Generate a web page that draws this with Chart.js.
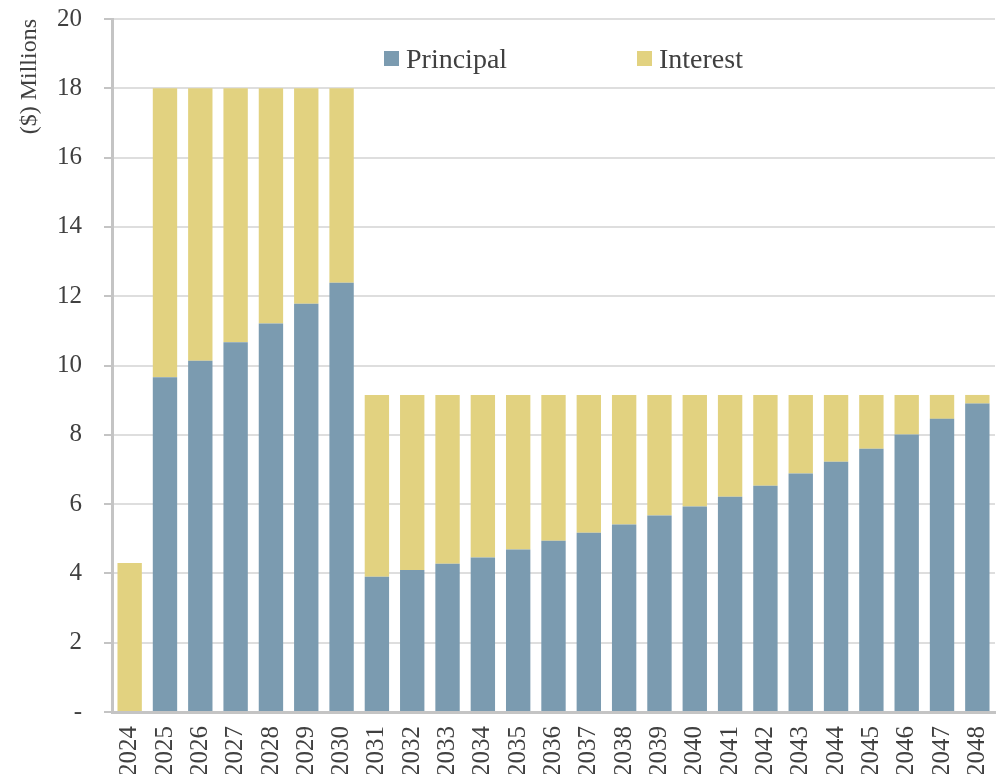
<!DOCTYPE html>
<html>
<head>
<meta charset="utf-8">
<script src="https://cdn.jsdelivr.net/npm/chart.js@4/dist/chart.umd.min.js"></script>
<style>
  html, body { margin: 0; padding: 0; background: #fff; overflow: hidden; }
  #wrap { width: 996px; height: 774px; position: relative; }
</style>
</head>
<body>
<div id="wrap"><canvas id="c" width="996" height="774"></canvas></div>
<script>
// Debt service schedule, $ millions
const years = ['2024','2025','2026','2027','2028','2029','2030','2031','2032','2033','2034','2035','2036',
               '2037','2038','2039','2040','2041','2042','2043','2044','2045','2046','2047','2048'];
const principal = [0, 9.66, 10.14, 10.67, 11.21, 11.78, 12.39, 3.90, 4.10, 4.28, 4.46, 4.69, 4.94,
                   5.17, 5.41, 5.67, 5.93, 6.21, 6.53, 6.88, 7.22, 7.60, 8.01, 8.46, 8.90];
const interest = [4.30, 8.34, 7.86, 7.33, 6.79, 6.22, 5.61, 5.25, 5.05, 4.87, 4.69, 4.46, 4.21,
                  3.98, 3.74, 3.48, 3.22, 2.94, 2.62, 2.27, 1.93, 1.55, 1.14, 0.69, 0.25];
const yTicks = [0, 2, 4, 6, 8, 10, 12, 14, 16, 18, 20];

const SERIF = '"Liberation Serif", "Times New Roman", serif';
const TEXT = '#404040';
const AXIS = '#c4c4c4';

// Legend drawn inside the plot area, near the top
const innerLegend = {
  id: 'innerLegend',
  afterDraw(chart) {
    const ctx = chart.ctx;
    const area = chart.chartArea;
    const slots = [272, 525];
    ctx.save();
    ctx.font = '28px ' + SERIF;
    ctx.textBaseline = 'alphabetic';
    ctx.textAlign = 'left';
    chart.data.datasets.forEach((ds, i) => {
      const x = area.left + slots[i];
      ctx.fillStyle = ds.backgroundColor;
      ctx.fillRect(x, 51, 15, 15);
      ctx.fillStyle = TEXT;
      ctx.fillText(ds.label, x + 22, 67.5);
    });
    ctx.restore();
  }
};

new Chart(document.getElementById('c'), {
  type: 'bar',
  data: {
    labels: years,
    datasets: [
      { label: 'Principal', data: principal, backgroundColor: '#7b9bb0',
        categoryPercentage: 1, barPercentage: 0.69 },
      { label: 'Interest', data: interest, backgroundColor: '#e2d280',
        categoryPercentage: 1, barPercentage: 0.69 }
    ]
  },
  options: {
    responsive: false,
    animation: false,
    layout: { padding: { top: 19, right: 1, left: 0, bottom: 0 } },
    plugins: { legend: { display: false }, tooltip: { enabled: false } },
    scales: {
      x: {
        stacked: true,
        grid: { display: false },
        border: { display: true, color: AXIS, width: 3 },
        ticks: {
          autoSkip: false, minRotation: 90, maxRotation: 90, padding: 6,
          color: TEXT, font: { family: SERIF, size: 25 }
        },
        afterFit(scale) { scale.height = 62; scale.paddingLeft = 0; scale.paddingRight = 0; }
      },
      y: {
        stacked: true,
        min: 0, max: 20,
        afterBuildTicks(scale) { scale.ticks = yTicks.map(v => ({ value: v })); },
        grid: { color: '#dedede', lineWidth: 2, tickLength: 8, tickColor: AXIS, tickWidth: 2 },
        border: { display: true, color: AXIS, width: 3 },
        ticks: {
          padding: 22, color: TEXT, font: { family: SERIF, size: 25 },
          callback: v => (v === 0 ? '-' : String(v))
        },
        title: {
          display: true, text: '($) Millions', align: 'end',
          color: TEXT, font: { family: SERIF, size: 24 },
          padding: { top: 15, bottom: 0 }
        },
        afterFit(scale) { scale.width = 112; scale.paddingTop = 0; scale.paddingBottom = 0; }
      }
    }
  },
  plugins: [innerLegend]
});
</script>
</body>
</html>
